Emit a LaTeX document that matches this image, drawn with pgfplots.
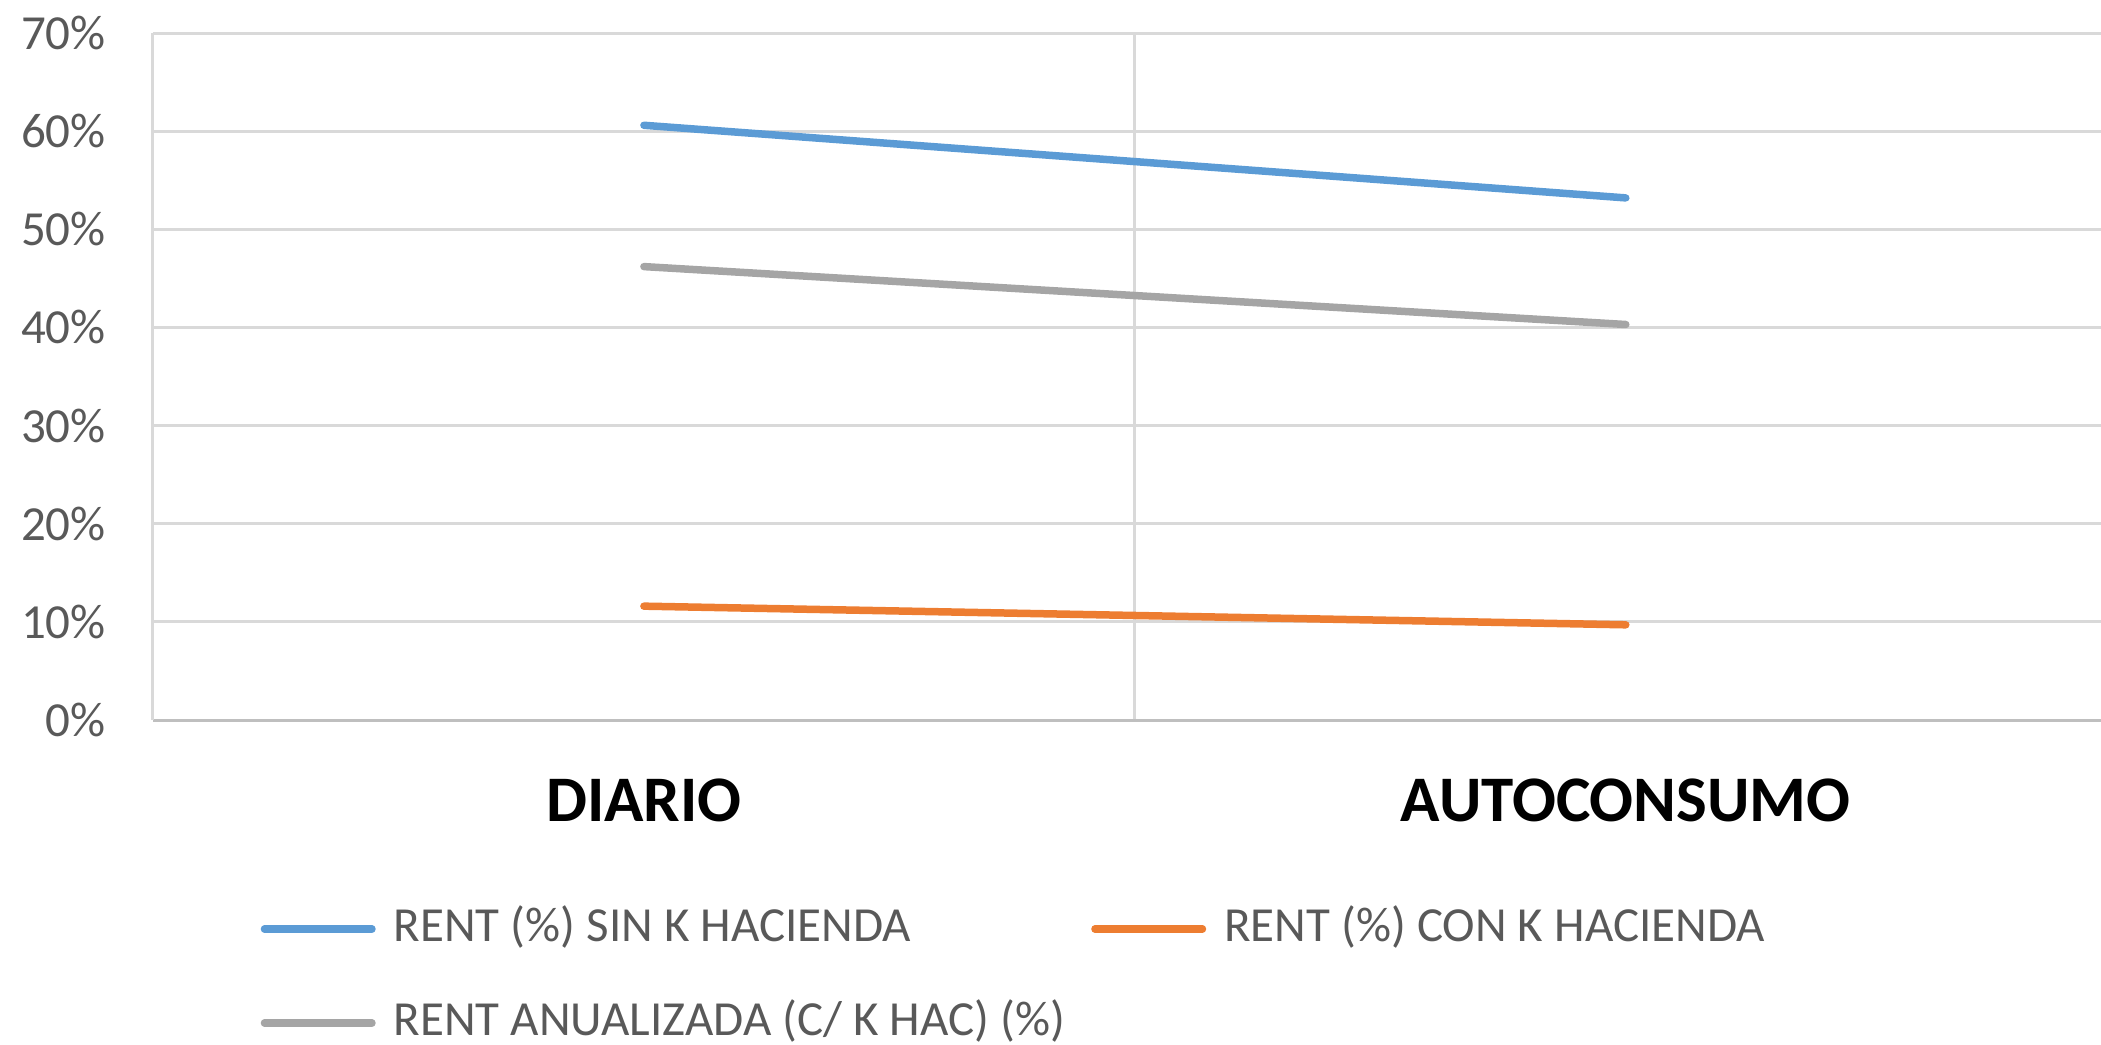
\documentclass[border=0pt]{standalone}
\usepackage{pgfplots}
\pgfplotsset{compat=1.18}
\usepackage{fontspec}
\setmainfont{Carlito}
\definecolor{sblue}{HTML}{5B9BD5}
\definecolor{sorange}{HTML}{ED7D31}
\definecolor{sgray}{HTML}{A5A5A5}
\definecolor{gridc}{HTML}{D9D9D9}
\definecolor{txt}{HTML}{595959}
\begin{document}
\begin{tikzpicture}
\begin{axis}[
  scale only axis,
  width=389.6pt, height=137.4pt,
  xmin=-0.5, xmax=1.484,
  ymin=0, ymax=70,
  xtick={0,1},
  xticklabels={DIARIO,AUTOCONSUMO},
  minor xtick={0.5},
  xminorgrids,
  minor grid style={draw=gridc, line width=0.6pt},
  ytick={0,10,20,30,40,50,60,70},
  yticklabels={0\%,10\%,20\%,30\%,40\%,50\%,60\%,70\%},
  ymajorgrids,
  major grid style={draw=gridc, line width=0.6pt},
  axis x line*=bottom,
  axis y line*=left,
  axis line style={-, draw=gridc, line width=0.6pt},
  x axis line style={draw=black!25},
  major tick length=0pt, minor tick length=0pt,
  tick style={draw=none},
  yticklabel style={font=\fontsize{9.8pt}{11pt}\selectfont, text=txt, xshift=-5.9pt},
  xticklabel style={font=\fontsize{13pt}{15pt}\selectfont\bfseries, text=black, yshift=-8.3pt},
  legend columns=2,
  legend cell align=left,
  legend style={
    draw=none, fill=none, inner sep=0pt, outer sep=0pt,
    at={(axis description cs:0.0553,-0.2715)}, anchor=north west,
    font=\fontsize{9.8pt}{11pt}\selectfont, text=txt,
    nodes={inner sep=0pt, text height=7pt, text depth=2pt},
    row sep=9.8pt,
    /tikz/every odd column/.append style={column sep=3.6pt},
    /tikz/every even column/.append style={column sep=5.2pt},
    /tikz/column 3/.append style={column sep=2pt},
  },
  legend image code/.code={\draw[#1, line cap=round] (0pt,0pt) -- (21.5pt,0pt);},
  every axis plot/.append style={line width=1.5pt, line cap=round},
]
\addplot[sblue] coordinates {(0,60.6) (1,53.2)};
\addlegendentry{RENT (\%) SIN K HACIENDA}
\addplot[sorange] coordinates {(0,11.6) (1,9.7)};
\addlegendentry{RENT (\%) CON K HACIENDA}
\addplot[sgray] coordinates {(0,46.2) (1,40.3)};
\addlegendentry{RENT ANUALIZADA (C/ K HAC) (\%)}
\end{axis}
\pgfresetboundingbox
\path ([xshift=-30.6pt,yshift=-64.8pt]current axis.south west) rectangle ++(420.2pt,208.8pt);
\end{tikzpicture}
\end{document}
